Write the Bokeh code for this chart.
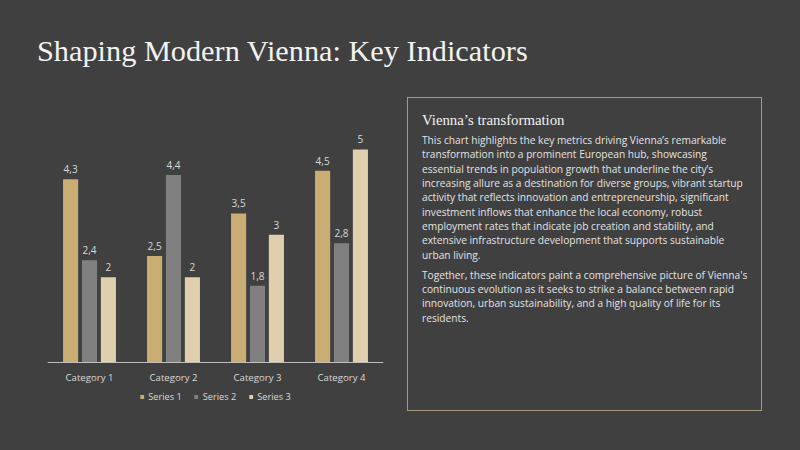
from bokeh.plotting import figure
from bokeh.models import ColumnDataSource, FactorRange, Range1d, Legend, LegendItem, Div
from bokeh.layouts import column, row
from bokeh.transform import dodge
from bokeh.core.properties import value
from bokeh.embed import file_html
from bokeh.resources import INLINE

# data
categories = ["Category 1", "Category 2", "Category 3", "Category 4"]
series_names = ["Series 1", "Series 2", "Series 3"]
series_1 = [4.3, 2.5, 3.5, 4.5]
series_2 = [2.4, 4.4, 1.8, 2.8]
series_3 = [2, 2, 3, 5]

title_text = "Shaping Modern Vienna: Key Indicators"
box_title = "Vienna\u2019s transformation"
para_1 = [
    "This chart highlights the key metrics driving Vienna\u2019s remarkable",
    "transformation into a prominent European hub, showcasing",
    "essential trends in population growth that underline the city\u2019s",
    "increasing allure as a destination for diverse groups, vibrant startup",
    "activity that reflects innovation and entrepreneurship, significant",
    "investment inflows that enhance the local economy, robust",
    "employment rates that indicate job creation and stability, and",
    "extensive infrastructure development that supports sustainable",
    "urban living.",
]
para_2 = [
    "Together, these indicators paint a comprehensive picture of Vienna's",
    "continuous evolution as it seeks to strike a balance between rapid",
    "innovation, urban sustainability, and a high quality of life for its",
    "residents.",
]

BG = "#404040"
colors = ["#C9AD72", "#808080", "#DFCFAC"]
label_col = "#D9D9D9"
bg_style = {"background-color": BG}


def fmt(v):
    return f"{v:g}".replace(".", ",")


source = ColumnDataSource(dict(
    cat=categories,
    s1=series_1, s2=series_2, s3=series_3,
    l1=[fmt(v) for v in series_1],
    l2=[fmt(v) for v in series_2],
    l3=[fmt(v) for v in series_3],
))

# frame runs below the zero line so the legend can sit under the category labels
p = figure(x_range=FactorRange(factors=categories), y_range=Range1d(-1.3615, 5.446),
           width=400, height=367, output_backend="svg", toolbar_location=None,
           min_border_left=47, min_border_right=17, min_border_top=47, min_border_bottom=30,
           background_fill_color=BG, border_fill_color=BG, outline_line_color=None,
           styles=bg_style)

items = []
offsets = [-0.225, 0.0, 0.225]
for i, (name, col, off) in enumerate(zip(series_names, colors, offsets)):
    key = "s%d" % (i + 1)
    lab = "l%d" % (i + 1)
    xs = dodge("cat", off, range=p.x_range)
    r = p.vbar(x=xs, top=key, width=0.18, source=source, fill_color=col, line_color=None)
    p.text(x=xs, y=key, text=lab, source=source, text_align="center", text_baseline="bottom",
           y_offset=-6, text_font=value("Open Sans"), text_font_size="10px", text_color=label_col)
    items.append(LegendItem(label=name, renderers=[r]))

p.yaxis.visible = False
p.grid.visible = False
p.xaxis.fixed_location = 0
p.xaxis.axis_line_color = "#BFBFBF"
p.xaxis.axis_line_width = 1.2
p.xaxis.major_tick_line_color = None
p.xaxis.minor_tick_line_color = None
p.xaxis.major_label_text_color = label_col
p.xaxis.major_label_text_font = "Open Sans"
p.xaxis.major_label_text_font_size = "9.6px"
p.xaxis.major_label_standoff = 2

legend = Legend(items=items, orientation="horizontal", location="bottom_center",
                background_fill_alpha=0, border_line_color=None,
                label_text_color=label_col, label_text_font="Open Sans", label_text_font_size="9.2px",
                glyph_width=5, glyph_height=5, label_standoff=4, spacing=12,
                padding=0, margin=17, label_height=12)
p.add_layout(legend)

# title across the top
title_div = Div(width=800, height=83, margin=0, styles=bg_style,
                text='<div style="padding:36px 0 0 37px; font-family:\'Liberation Serif\'; '
                     'font-size:30.3px; line-height:30px; color:#F2F2F2; white-space:nowrap;">'
                     + title_text + '</div>')

p_style = ("font-family:'Open Sans'; font-size:10.2px; line-height:14.3px; "
           "color:#E3E3E3; white-space:nowrap;")
box_html = (
    '<div style="box-sizing:border-box; margin:14px 0 0 7px; width:355px; height:314px; '
    'border:1px solid #A59A7B; padding:13px 0 0 14px;">'
    '<div style="font-family:\'Liberation Serif\'; font-size:14.8px; line-height:18px; color:#F2F2F2;">'
    + box_title + '</div>'
    '<div style="margin-top:4.2px; ' + p_style + '">' + "<br>".join(para_1) + '</div>'
    '<div style="margin-top:5.9px; ' + p_style + '">' + "<br>".join(para_2) + '</div>'
    '</div>'
)
box_div = Div(width=400, height=367, margin=0, styles=bg_style, text=box_html)

layout = column(title_div, row(p, box_div, width=800, height=367, styles=bg_style),
                width=800, height=450, styles=bg_style)

open("out.html", "w").write(file_html(layout, INLINE))
